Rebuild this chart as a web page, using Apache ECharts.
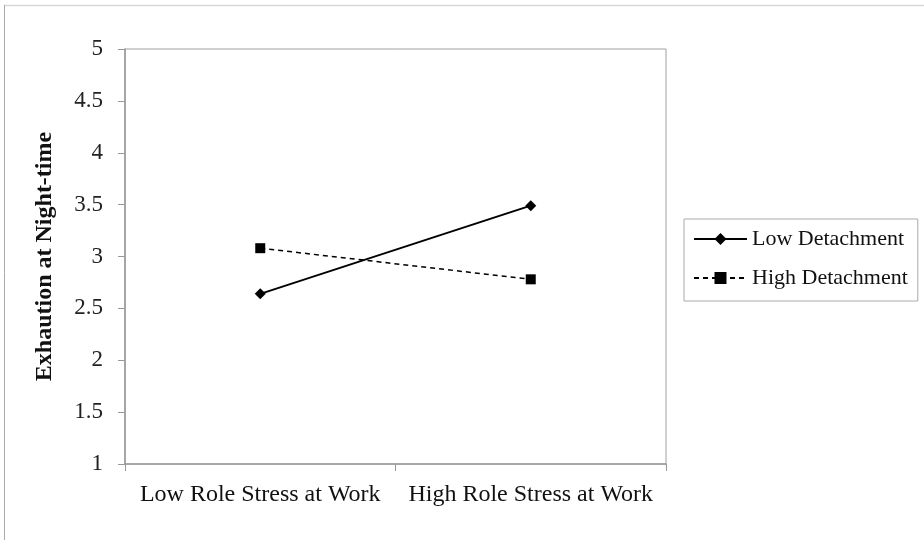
<!DOCTYPE html>
<html>
<head>
<meta charset="utf-8">
<script src="https://cdn.jsdelivr.net/npm/echarts@6/dist/echarts.min.js"></script>
<style>html,body{margin:0;padding:0;background:#fff}#c{width:924px;height:540px}</style>
</head>
<body>
<div id="c"></div>
<script>
var categories = ['Low Role Stress at Work', 'High Role Stress at Work'];
var lowDetachment = [2.64, 3.49];
var highDetachment = [3.08, 2.78];
var yTitle = 'Exhaution at Night-time';

var chart = echarts.init(document.getElementById('c'));
var font = '"Liberation Serif", "Times New Roman", serif';
chart.setOption({
  animation: false,
  backgroundColor: '#fff',
  graphic: [
    {type: 'line', shape: {x1: 4, y1: 5.5, x2: 924, y2: 5.5}, style: {stroke: '#d8d8d8', lineWidth: 1.5}},
    {type: 'line', shape: {x1: 4.5, y1: 5, x2: 4.5, y2: 540}, style: {stroke: '#aaa', lineWidth: 1}}
  ],
  grid: {left: 125, top: 49, right: 258, bottom: 76, show: true, borderColor: '#a0a0a0', borderWidth: 1, backgroundColor: 'transparent'},
  legend: {
    orient: 'vertical', left: 684, top: 219,
    borderColor: '#aaa', borderWidth: 1, padding: [9, 10, 12, 9],
    itemWidth: 53, itemHeight: 15, itemGap: 17,
    textStyle: {fontFamily: font, fontSize: 22, color: '#111'},
    data: ['Low Detachment', 'High Detachment']
  },
  xAxis: {
    type: 'category', data: categories, boundaryGap: true,
    axisLine: {lineStyle: {color: '#999', width: 1.5}},
    axisTick: {show: true, length: 7, lineStyle: {color: '#999'}},
    axisLabel: {fontFamily: font, fontSize: 24, color: '#111', margin: 19, interval: 0, hideOverlap: false}
  },
  yAxis: {
    type: 'value', min: 1, max: 5, interval: 0.5,
    name: yTitle, nameLocation: 'middle', nameRotate: 90, nameGap: 68,
    nameTextStyle: {fontFamily: font, fontSize: 24, fontWeight: 'bold', color: '#111'},
    axisLine: {show: true, lineStyle: {color: '#999', width: 1.5}},
    axisTick: {show: true, length: 7, lineStyle: {color: '#999'}},
    splitLine: {show: false},
    axisLabel: {fontFamily: font, fontSize: 23, color: '#222', margin: 22}
  },
  series: [
    {
      name: 'Low Detachment', type: 'line', data: lowDetachment,
      symbol: 'diamond', symbolSize: 11,
      itemStyle: {color: '#000'},
      lineStyle: {color: '#000', width: 2, type: 'solid'}
    },
    {
      name: 'High Detachment', type: 'line', data: highDetachment,
      symbol: 'rect', symbolSize: 10,
      itemStyle: {color: '#000'},
      lineStyle: {color: '#000', width: 1.5, type: [5, 4]}
    }
  ]
});
</script>
</body>
</html>
